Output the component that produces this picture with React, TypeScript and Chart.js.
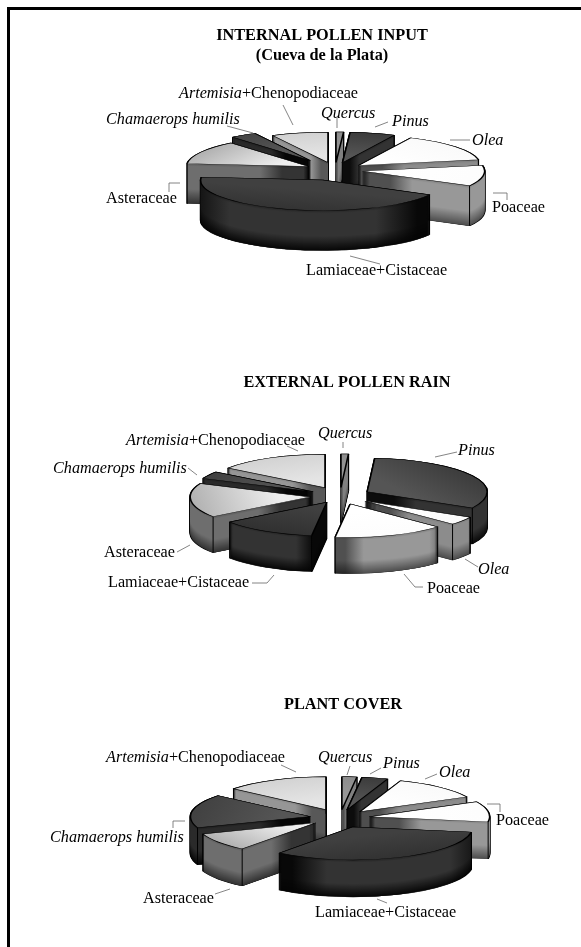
import React, { useEffect, useRef } from "react";
import { Chart, registerables } from "chart.js";

Chart.register(...registerables);

const W = 581;
const H = 947;

const categories = ["Quercus", "Pinus", "Olea", "Poaceae", "Lamiaceae+Cistaceae", "Asteraceae", "Chamaerops humilis", "Artemisia+Chenopodiaceae"];
const internalPollen = [1, 6, 15, 11, 43.5, 12.5, 3.5, 7.5];
const externalPollen = [1, 32, 4, 15, 13, 16.5, 3.5, 15];
const plantCover = [2, 3.5, 12, 10, 33, 9, 16.5, 14];

// apex colour, rim colour, wall mid colour, wall edge colour
const topApex = ["#9a9a9a", "#555555", "#ffffff", "#ffffff", "#404040", "#eeeeee", "#555555", "#e4e4e4"];
const topRim = ["#888888", "#333333", "#f8f8f8", "#fcfcfc", "#2c2c2c", "#9c9c9c", "#3a3a3a", "#cccccc"];
const wallMid = ["#808080", "#333333", "#8c8c8c", "#989898", "#333333", "#6e6e6e", "#2a2a2a", "#969696"];
const wallEdge = ["#505050", "#0c0c0c", "#4e4e4e", "#505050", "#080808", "#343434", "#060606", "#585858"];

const italicPart: Record<string, string> = {
  Quercus: "Quercus",
  Pinus: "Pinus",
  Olea: "Olea",
  "Chamaerops humilis": "Chamaerops humilis",
  "Artemisia+Chenopodiaceae": "Artemisia",
};

type Pt = [number, number];
type Layout = {
  title: { text: string; x: number; y: number }[];
  values: number[];
  center: Pt;
  radius: number;
  squash: number;
  depth: number;
  explode: number[];
  labelAt: Pt[];
  leaders: Pt[][];
};

const panels: Layout[] = [
  {
    title: [
      { text: "INTERNAL POLLEN INPUT", x: 322, y: 40 },
      { text: "(Cueva de la Plata)", x: 322, y: 60 },
    ],
    values: internalPollen,
    center: [335, 170],
    radius: 122,
    squash: 0.25,
    depth: 40,
    explode: [30, 30, 30, 28, 42, 30, 45, 30],
    labelAt: [[321, 118], [392, 126], [472, 145], [492, 212], [306, 275], [106, 203], [106, 124], [179, 98]],
    leaders: [
      [[337, 117], [337, 128]],
      [[388, 122], [375, 127]],
      [[470, 140], [450, 140]],
      [[507, 200], [507, 193], [493, 193]],
      [[350, 256], [380, 264]],
      [[169, 192], [169, 183], [180, 183]],
      [[227, 126], [253, 133]],
      [[283, 105], [293, 125]],
    ],
  },
  {
    title: [{ text: "EXTERNAL POLLEN RAIN", x: 347, y: 387 }],
    values: externalPollen,
    center: [340, 496],
    radius: 120,
    squash: 0.28,
    depth: 36,
    explode: [30, 31, 31, 30, 26, 30, 31, 33],
    labelAt: [[318, 438], [458, 455], [478, 574], [427, 593], [108, 587], [104, 557], [53, 473], [126, 445]],
    leaders: [
      [[343, 442], [343, 448]],
      [[457, 452], [435, 457]],
      [[465, 559], [478, 567]],
      [[404, 574], [415, 587], [423, 587]],
      [[252, 583], [267, 583], [274, 575]],
      [[177, 552], [190, 545]],
      [[188, 468], [197, 475]],
      [[287, 446], [298, 451]],
    ],
  },
  {
    title: [{ text: "PLANT COVER", x: 343, y: 709 }],
    values: plantCover,
    center: [340, 818],
    radius: 120,
    squash: 0.275,
    depth: 37,
    explode: [30, 30, 30, 30, 35, 30, 30, 33],
    labelAt: [[318, 762], [383, 768], [439, 777], [496, 825], [315, 917], [143, 903], [50, 842], [106, 762]],
    leaders: [
      [[350, 766], [347, 775]],
      [[381, 768], [370, 774]],
      [[437, 774], [425, 779]],
      [[500, 812], [500, 804], [487, 804]],
      [[377, 899], [387, 903]],
      [[215, 894], [230, 889]],
      [[173, 828], [173, 821], [185, 821]],
      [[281, 765], [296, 772]],
    ],
  },
];

const TEXT_FONT = "16.2px 'Liberation Serif'";
const ITALIC_FONT = "italic 16.2px 'Liberation Serif'";
const TITLE_FONT = "bold 16.3px 'Liberation Serif'";

function hexToRgb(h: string): number[] {
  return [1, 3, 5].map((i) => parseInt(h.slice(i, i + 2), 16));
}
function mix(a: string, b: string, t: number): string {
  const A = hexToRgb(a);
  const B = hexToRgb(b);
  return `rgb(${A.map((v, i) => Math.round(v + (B[i] - v) * t)).join(",")})`;
}

const pie3d = {
  id: "pie3d",
  beforeDatasetsDraw(chart: any, _args: any, cfg: Layout) {
    const ctx: CanvasRenderingContext2D = chart.ctx;
    const arcs: any[] = chart.getDatasetMeta(0).data;
    const { squash, depth, explode } = cfg;
    const order = arcs
      .map((arc, i) => {
        const mid = (arc.startAngle + arc.endAngle) / 2;
        return { arc, i, mid, key: Math.sin(mid) };
      })
      .sort((a, b) => a.key - b.key);

    order.forEach(({ arc, i, mid }) => {
      const cx = arc.x;
      const cy = arc.y;
      const R = arc.outerRadius;
      const ex = Math.cos(mid) * explode[i];
      const ey = Math.sin(mid) * explode[i];

      const place = (dy: number) => {
        ctx.translate(cx, cy + dy);
        ctx.scale(1, squash);
        ctx.translate(-cx + ex, -cy + ey);
      };
      const ghost = (over: any) => {
        const g = Object.create(arc);
        g.options = { ...arc.options, ...over };
        return g;
      };

      // silhouette outline of the extruded wedge
      for (let d = depth; d >= 0; d -= 1) {
        ctx.save();
        place(d);
        ghost({ backgroundColor: "#000", borderColor: "#000", borderWidth: 1.6 }).draw(ctx);
        ctx.restore();
      }

      // horizontal extent of the wedge, for the wall gradient
      let minX = cx + ex;
      let maxX = cx + ex;
      for (let k = 0; k <= 24; k++) {
        const a = arc.startAngle + ((arc.endAngle - arc.startAngle) * k) / 24;
        const x = cx + ex + Math.cos(a) * R;
        minX = Math.min(minX, x);
        maxX = Math.max(maxX, x);
      }

      // walls, drawn from the bottom up one pixel at a time
      for (let d = depth; d >= 1; d -= 1) {
        const t = d / depth;
        const shade = t > 0.65 ? (t - 0.65) / 0.35 : t < 0.08 ? (0.08 - t) / 0.2 : 0;
        const mid2 = mix(wallMid[i], wallEdge[i], Math.min(1, shade));
        const edge = mix(wallEdge[i], "#000000", Math.min(1, shade) * 0.5);
        ctx.save();
        place(d);
        const g = ctx.createLinearGradient(minX, 0, maxX, 0);
        g.addColorStop(0, edge);
        g.addColorStop(0.18, mid2);
        g.addColorStop(0.82, mid2);
        g.addColorStop(1, edge);
        ghost({ backgroundColor: g, borderWidth: 0 }).draw(ctx);
        ctx.restore();
      }

      // vertical edges at the wedge's visible corners
      ctx.save();
      ctx.strokeStyle = "#000";
      ctx.lineWidth = 1;
      const s = arc.startAngle;
      const e = arc.endAngle;
      const startFace = Math.cos(s) < 0;
      const endFace = Math.cos(e) > 0;
      const corners: [number, number, boolean][] = [
        [cx + ex, cy + ey * squash, startFace && endFace],
        [cx + ex + Math.cos(s) * R, cy + (ey + Math.sin(s) * R) * squash, startFace || Math.sin(s) > 0],
        [cx + ex + Math.cos(e) * R, cy + (ey + Math.sin(e) * R) * squash, endFace || Math.sin(e) > 0],
      ];
      corners.forEach(([x, y, visible]) => {
        if (!visible) return;
        ctx.beginPath();
        ctx.moveTo(x, y);
        ctx.lineTo(x, y + depth);
        ctx.stroke();
      });
      ctx.restore();

      // top face
      ctx.save();
      place(0);
      const rimX = cx + ex + Math.cos(mid) * R;
      const rimY = cy + ey + Math.sin(mid) * R;
      const g = ctx.createLinearGradient(cx + ex, cy + ey, rimX, rimY);
      g.addColorStop(0, topApex[i]);
      g.addColorStop(1, topRim[i]);
      ghost({ backgroundColor: g, borderColor: "#000", borderWidth: 1.6 }).draw(ctx);
      ctx.restore();
    });
    return false;
  },
  afterDraw(chart: any, _args: any, cfg: Layout) {
    const ctx: CanvasRenderingContext2D = chart.ctx;
    ctx.save();
    ctx.fillStyle = "#000";
    ctx.textBaseline = "alphabetic";

    ctx.font = TITLE_FONT;
    ctx.textAlign = "center";
    cfg.title.forEach((t) => ctx.fillText(t.text, t.x, t.y));

    ctx.textAlign = "left";
    chart.data.labels.forEach((label: string, i: number) => {
      const [x, y] = cfg.labelAt[i];
      const it = italicPart[label] || "";
      const rest = label.slice(it.length);
      ctx.font = ITALIC_FONT;
      ctx.fillText(it, x, y);
      const w = ctx.measureText(it).width;
      ctx.font = TEXT_FONT;
      ctx.fillText(rest, x + w, y);
    });

    ctx.strokeStyle = "#666";
    ctx.lineWidth = 0.8;
    cfg.leaders.forEach((line) => {
      ctx.beginPath();
      line.forEach(([x, y], k) => (k ? ctx.lineTo(x, y) : ctx.moveTo(x, y)));
      ctx.stroke();
    });
    ctx.restore();
  },
};

function Panel({ cfg }: { cfg: Layout }) {
  const ref = useRef<HTMLCanvasElement>(null);
  useEffect(() => {
    const [cx, cy] = cfg.center;
    const chart = new Chart(ref.current as HTMLCanvasElement, {
      type: "pie",
      data: {
        labels: categories,
        datasets: [{ data: cfg.values, backgroundColor: topRim, borderWidth: 0 }],
      },
      options: {
        animation: false,
        responsive: false,
        radius: cfg.radius,
        events: [],
        layout: {
          padding: {
            left: Math.max(0, 2 * cx - W),
            right: Math.max(0, W - 2 * cx),
            top: Math.max(0, 2 * cy - H),
            bottom: Math.max(0, H - 2 * cy),
          },
        },
        plugins: { legend: { display: false }, tooltip: { enabled: false }, pie3d: cfg },
      } as any,
      plugins: [pie3d as any],
    });
    return () => chart.destroy();
  }, [cfg]);
  return <canvas ref={ref} width={W} height={H} style={{ position: "absolute", left: 0, top: 0, width: W, height: H, filter: "blur(0.35px)" }} />;
}

export default function App() {
  return (
    <div style={{ position: "absolute", left: 0, top: 0, width: W, height: H, background: "#fff", overflow: "hidden" }}>
      {panels.map((p, i) => (
        <Panel key={i} cfg={p} />
      ))}
      <div style={{ position: "absolute", left: 7, top: 7, width: W - 7, height: 3, background: "#000" }} />
      <div style={{ position: "absolute", left: 7, top: 7, width: 3, height: H - 7, background: "#000" }} />
    </div>
  );
}
